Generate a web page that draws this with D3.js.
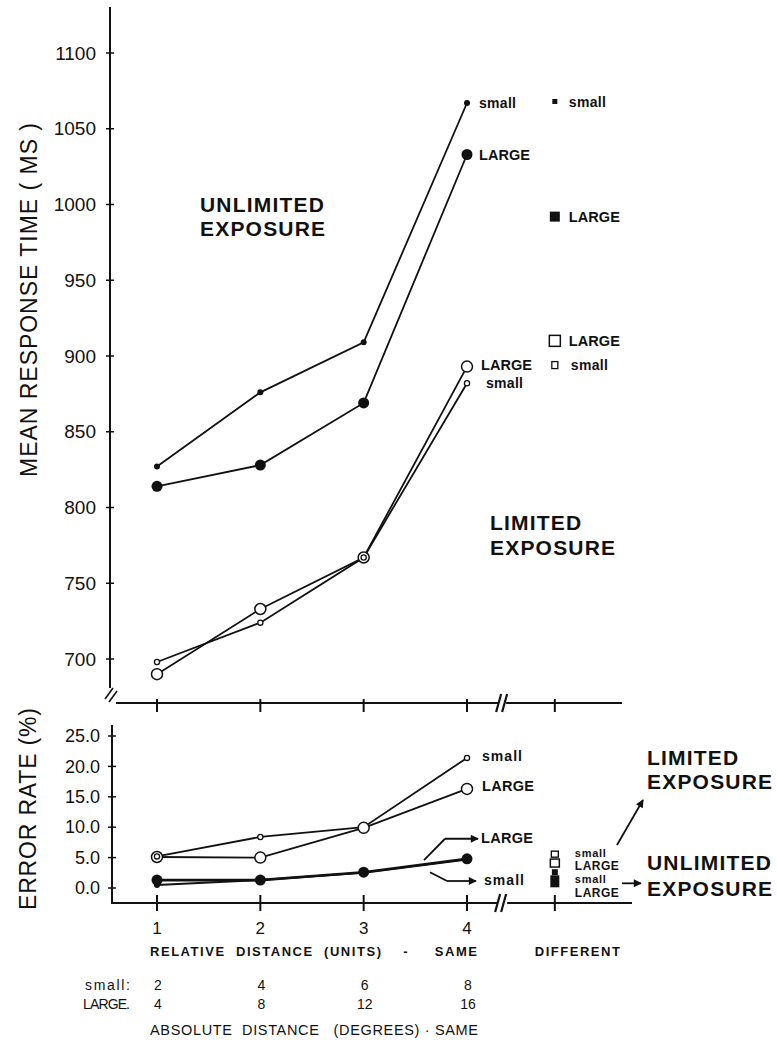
<!DOCTYPE html>
<html><head><meta charset="utf-8">
<script src="https://cdn.jsdelivr.net/npm/d3@7"></script>
<style>
body{margin:0;background:#fff;}
svg{display:block;}
text{font-family:"Liberation Sans",Arial,Helvetica,sans-serif;fill:#111;white-space:pre;}
</style>
</head><body>
<svg id="c" width="777" height="1040"></svg>
<script>
// ---------- data ----------
const positions = [1, 2, 3, 4];
const relativeLabels = ["1", "2", "3", "4"];
const absSmall = [2, 4, 6, 8];
const absLarge = [4, 8, 12, 16];

// Mean response time (ms)
const rtUnlimitedSmall = [827, 876, 909, 1067];
const rtUnlimitedLarge = [814, 828, 869, 1033];
const rtLimitedLarge   = [690, 733, 767, 893];
const rtLimitedSmall   = [698, 724, 767, 882];
// "Different" condition (response time)
const rtDiffUnlimitedSmall = 1068;
const rtDiffUnlimitedLarge = 992;
const rtDiffLimitedLarge   = 910;
const rtDiffLimitedSmall   = 894;

// Error rate (%)
const errLimitedSmall   = [5.2, 8.4, 10.0, 21.4];
const errLimitedLarge   = [5.1, 5.0, 9.9, 16.3];
const errUnlimitedLarge = [1.3, 1.3, 2.6, 4.8];
const errUnlimitedSmall = [0.5, 1.3, 2.5, 4.7];
// "Different" condition (error rate)
const errDiffLimitedSmall   = 5.4;
const errDiffLimitedLarge   = 4.1;
const errDiffUnlimitedSmall = 2.6;
const errDiffUnlimitedLarge = 1.1;

const rtTicks  = [700, 750, 800, 850, 900, 950, 1000, 1050, 1100];
const errTicks = [0, 5, 10, 15, 20, 25];

// ---------- layout ----------
const DIFF = 4.85, BREAK = 4.34;
const svg = d3.select("#c");
const x = d3.scaleLinear().domain([1, 4]).range([157, 467]);
const yRT = d3.scaleLinear().domain([700, 1100]).range([659, 53]);
const yE = d3.scaleLinear().domain([0, 25]).range([888, 736]);
const xD = x(DIFF), xB = x(BREAK);
const ink = "#111";

const defs = svg.append("defs");
defs.append("marker").attr("id", "arr").attr("viewBox", "0 0 10 10")
  .attr("refX", 9).attr("refY", 5).attr("markerWidth", 10).attr("markerHeight", 8)
  .attr("markerUnits", "userSpaceOnUse").attr("orient", "auto")
  .append("path").attr("d", "M0,0 L10,5 L0,10 z").attr("fill", ink);

function line(pts, w) {
  svg.append("path").attr("d", d3.line()(pts)).attr("fill", "none")
    .attr("stroke", ink).attr("stroke-width", w || 2);
}
function arrow(pts, w) {
  svg.append("path").attr("d", d3.line()(pts)).attr("fill", "none")
    .attr("stroke", ink).attr("stroke-width", w || 1.8).attr("marker-end", "url(#arr)");
}

// ---------- TOP PANEL axes ----------
const topAxisX = 110, topBaseY = 703;
line([[topAxisX, yRT(1100) - 46], [topAxisX, 688]], 2);
line([[105, 699], [113, 688]], 1.6);
line([[109, 702], [117, 691]], 1.6);
line([[116, topBaseY], [xB - 4, topBaseY]], 2.2);
line([[xB + 4, topBaseY], [622, topBaseY]], 2.2);
line([[xB - 6, topBaseY + 9], [xB - 1, topBaseY - 9]], 2.2);
line([[xB, topBaseY + 9], [xB + 5, topBaseY - 9]], 2.2);

const yAxTop = d3.axisLeft(yRT).tickValues(rtTicks).tickSize(0).tickPadding(14).tickFormat(d3.format("d"));
const gTop = svg.append("g").attr("transform", `translate(${topAxisX},0)`).call(yAxTop);
gTop.select(".domain").remove();
gTop.selectAll("text").attr("font-size", 19).attr("fill", ink)
  .style("font-family", '"Liberation Sans",Arial,sans-serif');
rtTicks.forEach(v => line([[topAxisX - 4, yRT(v)], [topAxisX + 4, yRT(v)]], 1.5));
positions.concat([DIFF]).forEach(p => line([[x(p), topBaseY - 4], [x(p), topBaseY + 9]], 2));

svg.append("text").attr("transform", `translate(37,300) rotate(-90)`)
  .attr("text-anchor", "middle").attr("font-size", 23).attr("textLength", 354)
  .attr("lengthAdjust", "spacing").text("MEAN RESPONSE TIME ( MS )");

// ---------- TOP PANEL series ----------
function series(yS, vals, w) {
  line(positions.map((p, i) => [x(p), yS(vals[i])]), w || 1.8);
}
function dots(yS, vals, r, filled, sw) {
  positions.forEach((p, i) => {
    svg.append("circle").attr("cx", x(p)).attr("cy", yS(vals[i])).attr("r", r)
      .attr("fill", filled ? ink : "#fff").attr("stroke", ink).attr("stroke-width", filled ? 0 : (sw || 1.5));
  });
}
series(yRT, rtUnlimitedSmall);
series(yRT, rtUnlimitedLarge);
series(yRT, rtLimitedLarge);
series(yRT, rtLimitedSmall);
dots(yRT, rtUnlimitedSmall, 3, true);
dots(yRT, rtUnlimitedLarge, 5.5, true);
dots(yRT, rtLimitedLarge, 5.5, false, 1.5);
dots(yRT, rtLimitedSmall, 2.6, false, 1.3);

function square(cx, cy, w, h, filled, sw) {
  svg.append("rect").attr("x", cx - w / 2).attr("y", cy - h / 2).attr("width", w).attr("height", h)
    .attr("fill", filled ? ink : "#fff").attr("stroke", ink).attr("stroke-width", filled ? 0 : (sw || 1.5));
}
square(xD, yRT(rtDiffUnlimitedSmall), 5, 5, true);
square(xD, yRT(rtDiffUnlimitedLarge), 10, 10, true);
square(xD, yRT(rtDiffLimitedLarge), 11, 11, false, 1.5);
square(xD, yRT(rtDiffLimitedSmall), 6, 7, false, 1.3);

function lab(t, px, py, size, len) {
  const e = svg.append("text").attr("x", px).attr("y", py).attr("dy", "0.36em")
    .attr("font-size", size || 14).attr("font-weight", "bold").text(t);
  if (len) e.attr("textLength", len).attr("lengthAdjust", "spacing");
  return e;
}
lab("small", x(4) + 12, yRT(rtUnlimitedSmall[3]), 14, 37);
lab("LARGE", x(4) + 12, yRT(rtUnlimitedLarge[3]), 14.5, 51);
lab("LARGE", x(4) + 14, yRT(rtLimitedLarge[3]) - 2, 14.5, 51);
lab("small", x(4) + 19, yRT(rtLimitedSmall[3]), 14, 37);
lab("small", xD + 14, yRT(rtDiffUnlimitedSmall), 14, 37);
lab("LARGE", xD + 14, yRT(rtDiffUnlimitedLarge), 14.5, 51);
lab("LARGE", xD + 14, yRT(rtDiffLimitedLarge), 14.5, 51);
lab("small", xD + 16, yRT(rtDiffLimitedSmall), 14, 37);

// two-line bold annotation, one text element with wrapped lines
function big(lines, px, py, gap) {
  const t = svg.append("text").attr("x", px).attr("y", py)
    .attr("font-size", 21).attr("font-weight", "bold").attr("letter-spacing", 1.2);
  lines.forEach((s, i) => t.append("tspan").attr("x", px).attr("dy", i === 0 ? 0 : gap).text(s));
}
big(["UNLIMITED", "EXPOSURE"], 200, 212, 24);
big(["LIMITED", "EXPOSURE"], 490, 530, 25);

// ---------- BOTTOM PANEL axes ----------
const botAxisX = 112, botBaseY = 903;
line([[botAxisX, 725], [botAxisX, botBaseY]], 2);
line([[botAxisX - 1, botBaseY], [xB - 5, botBaseY]], 2.2);
line([[xB + 5, botBaseY], [632, botBaseY]], 2.2);
line([[xB - 7, botBaseY + 9], [xB - 2, botBaseY - 9]], 2.2);
line([[xB - 1, botBaseY + 9], [xB + 4, botBaseY - 9]], 2.2);
const yAxBot = d3.axisLeft(yE).tickValues(errTicks).tickSize(0).tickPadding(12).tickFormat(d3.format(".1f"));
const gBot = svg.append("g").attr("transform", `translate(${botAxisX},0)`).call(yAxBot);
gBot.select(".domain").remove();
gBot.selectAll("text").attr("font-size", 18).attr("fill", ink)
  .style("font-family", '"Liberation Sans",Arial,sans-serif');
errTicks.forEach(v => line([[botAxisX - 4, yE(v)], [botAxisX + 4, yE(v)]], 1.5));
positions.concat([DIFF]).forEach(p => line([[x(p), botBaseY - 8], [x(p), botBaseY + 8]], 2));

svg.append("text").attr("transform", `translate(36,809) rotate(-90)`)
  .attr("text-anchor", "middle").attr("font-size", 23).attr("textLength", 202)
  .attr("lengthAdjust", "spacing").text("ERROR RATE (%)");

// ---------- BOTTOM PANEL series ----------
series(yE, errLimitedSmall);
series(yE, errLimitedLarge);
series(yE, errUnlimitedSmall, 2);
series(yE, errUnlimitedLarge, 2.6);
dots(yE, errLimitedSmall, 2.6, false, 1.3);
dots(yE, errLimitedLarge, 5.5, false, 1.5);
dots(yE, errUnlimitedSmall, 3, true);
dots(yE, errUnlimitedLarge, 5.5, true);
svg.append("circle").attr("cx", x(1)).attr("cy", yE(errLimitedSmall[0])).attr("r", 2.6)
  .attr("fill", "#fff").attr("stroke", ink).attr("stroke-width", 1.3);

square(xD, yE(errDiffLimitedSmall) - 1, 7, 6, false, 1.4);
square(xD, yE(errDiffLimitedLarge), 9, 8, false, 1.5);
square(xD, yE(errDiffUnlimitedSmall), 6, 6, true);
square(xD, yE(errDiffUnlimitedLarge), 9, 12, true);

lab("small", x(4) + 15, yE(errLimitedSmall[3]) - 2, 14, 40);
lab("LARGE", x(4) + 15, yE(errLimitedLarge[3]) - 3, 14.5, 52);
lab("LARGE", x(4) + 14, yE(8.2), 14.5, 52);
lab("small", x(4) + 17, yE(1.3), 14, 40);
line([[x(4) - 43, yE(4.6)], [x(4) - 22, yE(8.1)]], 1.8);
arrow([[x(4) - 22, yE(8.1)], [x(4) + 11, yE(8.1)]]);
line([[x(4) - 37, yE(2.6)], [x(4) - 20, yE(1.15)]], 1.8);
arrow([[x(4) - 20, yE(1.15)], [x(4) + 9, yE(1.15)]]);

// stacked labels for the "different" condition
lab("small", xD + 20, yE(errDiffLimitedSmall) - 2.5, 11, 31);
lab("LARGE", xD + 20, yE(errDiffLimitedLarge) + 2.5, 12, 44);
lab("small", xD + 20, yE(errDiffUnlimitedSmall) + 7, 11, 31);
lab("LARGE", xD + 20, yE(errDiffUnlimitedLarge) + 11, 12, 44);

arrow([[617, 845], [643, 800]]);
arrow([[622, yE(errDiffUnlimitedLarge) + 2], [641, yE(errDiffUnlimitedLarge) + 2]]);

big(["LIMITED", "EXPOSURE"], 647, 765, 24);
big(["UNLIMITED", "EXPOSURE"], 647, 870, 26);

// ---------- x labels ----------
positions.forEach((p, i) => {
  svg.append("text").attr("x", x(p)).attr("y", 934).attr("text-anchor", "middle")
    .attr("font-size", 17).text(relativeLabels[i]);
  svg.append("text").attr("x", x(p) + 1).attr("y", 990).attr("text-anchor", "middle")
    .attr("font-size", 14).text(absSmall[i]);
  svg.append("text").attr("x", x(p) + 1).attr("y", 1009).attr("text-anchor", "middle")
    .attr("font-size", 14).text(absLarge[i]);
});
svg.append("text").attr("x", 150).attr("y", 956).attr("font-size", 13).attr("font-weight", "bold")
  .attr("textLength", 327).attr("lengthAdjust", "spacing").text("RELATIVE  DISTANCE  (UNITS)    -     SAME");
svg.append("text").attr("x", xD - 20).attr("y", 956).attr("font-size", 13).attr("font-weight", "bold")
  .attr("textLength", 85).attr("lengthAdjust", "spacing").text("DIFFERENT");
svg.append("text").attr("x", 130).attr("y", 990).attr("text-anchor", "end").attr("font-size", 14)
  .attr("textLength", 45).attr("lengthAdjust", "spacing").text("small:");
svg.append("text").attr("x", 130).attr("y", 1009).attr("text-anchor", "end").attr("font-size", 14)
  .attr("textLength", 47).attr("lengthAdjust", "spacing").text("LARGE.");
svg.append("text").attr("x", 150).attr("y", 1035).attr("font-size", 14.5)
  .attr("textLength", 328).attr("lengthAdjust", "spacing").text("ABSOLUTE  DISTANCE   (DEGREES) · SAME");
</script>
</body></html>
